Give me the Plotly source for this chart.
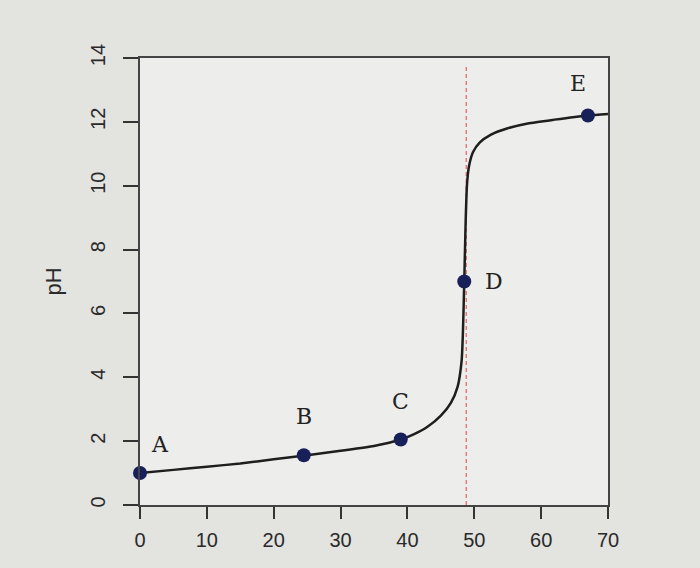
import plotly.graph_objects as go

# Titration curve
volume = [0, 5, 10, 15, 20, 25, 30, 35, 39, 41, 43, 45, 46.5, 47.5, 48.1, 48.3, 48.5, 48.7, 48.9, 49.2, 49.8, 50.8, 52.5, 55, 58, 62, 67, 70]
ph = [1.0, 1.1, 1.2, 1.3, 1.43, 1.56, 1.7, 1.85, 2.05, 2.22, 2.45, 2.8, 3.2, 3.7, 4.5, 5.4, 7.0, 8.8, 10.0, 10.6, 11.05, 11.35, 11.6, 11.8, 11.95, 12.07, 12.2, 12.25]

point_labels = ["A", "B", "C", "D", "E"]
point_volume = [0, 24.5, 39, 48.5, 67]
point_ph = [1.0, 1.56, 2.05, 7.0, 12.2]
label_dx = [3, 0, 0, 4.5, -1.5]
label_dy = [0.9, 1.2, 1.2, 0, 1.0]

eq_volume = 48.8
y_range = [0, 14]
x_ticks = [0, 10, 20, 30, 40, 50, 60, 70]
y_ticks = [0, 2, 4, 6, 8, 10, 12, 14]

fig = go.Figure()
fig.add_trace(go.Scatter(x=[eq_volume, eq_volume], y=[0, 13.8], mode="lines",
                         line=dict(color="#e0706c", width=1.3, dash="4px,3px"),
                         hoverinfo="skip", showlegend=False))
fig.add_trace(go.Scatter(x=volume, y=ph, mode="lines",
                         line=dict(color="#1e1e1e", width=2.5, shape="spline", smoothing=0.6),
                         showlegend=False))
fig.add_trace(go.Scatter(x=point_volume, y=point_ph, mode="markers",
                         marker=dict(color="#18205a", size=14), showlegend=False, cliponaxis=False))

for lab, vx, vy, dx, dy in zip(point_labels, point_volume, point_ph, label_dx, label_dy):
    fig.add_annotation(x=vx + dx, y=vy + dy, text=lab, showarrow=False,
                       font=dict(family="DejaVu Serif", size=22, color="#222"))

fig.update_layout(
    width=700, height=568,
    paper_bgcolor="#e3e3e0",
    plot_bgcolor="#ededeb",
    margin=dict(l=140, r=92, t=58, b=63),
    font=dict(family="Liberation Sans, Arial", color="#2a2a2a", size=20),
)
fig.update_xaxes(range=[0, 70], tickvals=x_ticks, ticks="outside", ticklen=12, tickwidth=1.5,
                 tickcolor="#333", showline=True, linecolor="#444", linewidth=1.5, mirror=True,
                 showgrid=False, zeroline=False, tickfont=dict(size=20), ticklabelstandoff=4)
fig.update_yaxes(range=y_range, tickvals=y_ticks, ticks="outside", ticklen=15, tickwidth=1.5,
                 tickcolor="#333", showline=True, linecolor="#444", linewidth=1.5, mirror=True,
                 showgrid=False, zeroline=False, tickangle=-90, tickfont=dict(size=20),
                 ticklabelstandoff=10,
                 title=dict(text="pH", font=dict(size=22), standoff=20))

fig.write_html("out.html", config={"displayModeBar": False},
               post_script="document.body.style.margin='0';")
